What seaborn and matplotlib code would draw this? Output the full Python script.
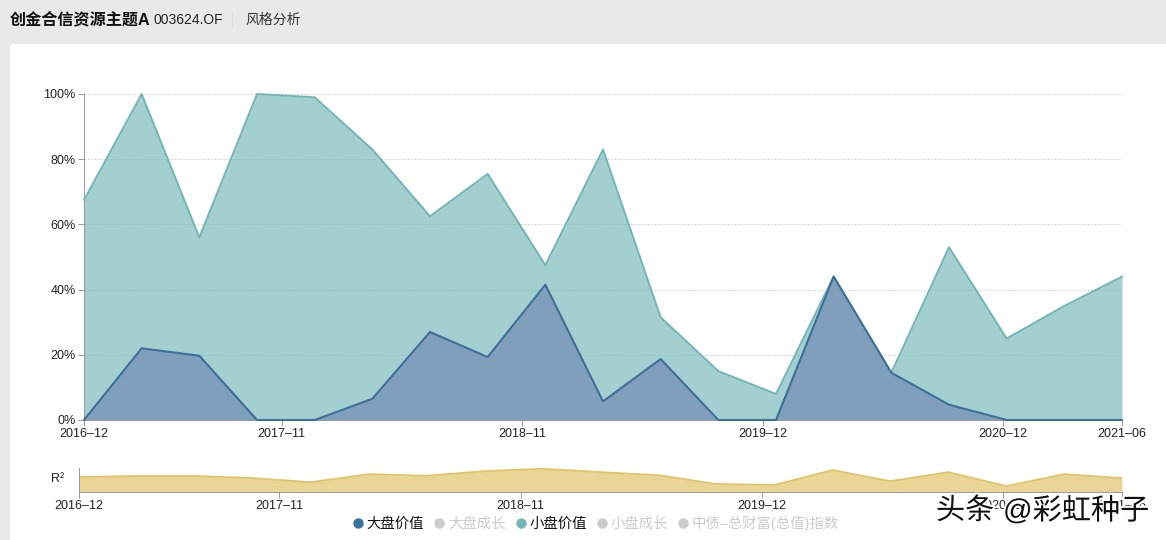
import matplotlib
matplotlib.use("Agg")
import matplotlib.pyplot as plt
import numpy as np
import pandas as pd
import seaborn as sns
from matplotlib.lines import Line2D
from matplotlib.patches import FancyBboxPatch
import matplotlib.patheffects as pe

# values, one point per report date
period = list(range(19))
large_value = [0, 22, 19.7, 0, 0, 6.5, 27, 19.3, 41.5, 5.7, 18.7, 0, 0, 44, 14.5, 4.7, 0, 0, 0]
small_value = [67.5, 100, 56, 100, 99, 83, 62.5, 75.5, 47.5, 83, 31.5, 15, 8, 44, 14.5, 53, 25, 35, 44]
r_squared = [0.58, 0.62, 0.62, 0.54, 0.38, 0.69, 0.63, 0.81, 0.90, 0.77, 0.65,
             0.31, 0.27, 0.85, 0.42, 0.77, 0.23, 0.69, 0.54]

y_ticks = [0, 20, 40, 60, 80, 100]
y_tick_labels = ["0%", "20%", "40%", "60%", "80%", "100%"]
date_labels = ["2016–12", "2017–11", "2018–11", "2019–12", "2020–12", "2021–06"]
date_ticks = [0, 3.43, 7.6, 11.77, 15.94, 18]
mini_date_ticks = [0, 3.45, 7.62, 11.78, 15.94, 18]
legend_names = ["大盘价值", "大盘成长", "小盘价值", "小盘成长", "中债–总财富(总值)指数"]

BLUE = "#3c6f99"
BLUE_FILL = "#7793b8"
TEAL = "#74b6b8"
GOLD = "#e0c468"
OFF = "#cccccc"
W, H = 1166, 540

sns.set_theme(style="white")
plt.rcParams["font.family"] = ["Liberation Sans", "Noto Sans CJK SC", "DejaVu Sans"]
plt.rcParams["axes.unicode_minus"] = False

df = pd.DataFrame({"period": period, "large": large_value, "small": small_value, "r2": r_squared})

fig = plt.figure(figsize=(W / 100, H / 100), dpi=100, facecolor="#e9e9e9")


def axes_px(left, top, right, bottom):
    return fig.add_axes([left / W, 1 - bottom / H, (right - left) / W, (bottom - top) / H])


# white card behind the charts
fig.add_artist(FancyBboxPatch((10 / W, -0.05), 1.1, 1 - 44 / H + 0.05, transform=fig.transFigure,
                              boxstyle="round,pad=0,rounding_size=0.005", fc="white", ec="none",
                              zorder=-1))

# header
fig.text(10 / W, 1 - 20 / H, "创金合信资源主题A", fontsize=11.6, fontweight="bold", color="#111111",
         va="center", family=["Liberation Sans", "Noto Sans CJK SC"])
fig.text(153 / W, 1 - 20 / H, "003624.OF", fontsize=10, color="#222222", va="center")
fig.text(245 / W, 1 - 20 / H, "风格分析", fontsize=10, color="#333333", va="center")
fig.add_artist(Line2D([232 / W, 232 / W], [1 - 13 / H, 1 - 27 / H], color="#dddddd", lw=0.8))

# main area chart
ax = axes_px(84, 94, 1122, 420)
ax.patch.set_alpha(0)
ax.fill_between(df["period"], df["small"], color=TEAL, alpha=0.65, lw=0)
ax.fill_between(df["period"], df["large"], color=BLUE_FILL, alpha=0.8, lw=0)
sns.lineplot(data=df, x="period", y="small", color=TEAL, lw=1.4, ax=ax, clip_on=False)
sns.lineplot(data=df, x="period", y="large", color=BLUE, lw=1.5, ax=ax, clip_on=False)
ax.set_xlim(0, 18)
ax.set_ylim(0, 100)
ax.set_xlabel("")
ax.set_ylabel("")
ax.set_yticks(y_ticks)
ax.set_yticklabels(y_tick_labels)
ax.set_xticks(date_ticks)
ax.set_xticklabels(date_labels)
ax.tick_params(axis="both", length=4, width=0.7, color="#999999", labelsize=9, labelcolor="#222222",
               bottom=True, left=True, pad=2)
ax.grid(axis="y", color="#c8c8c8", lw=0.6, ls=(0, (2, 2)))
ax.set_axisbelow(True)
sns.despine(ax=ax, top=True, right=True)
for side in ["left", "bottom"]:
    ax.spines[side].set_color("#999999")
    ax.spines[side].set_linewidth(0.7)
    ax.spines[side].set_zorder(1)  # the zero line of the blue series stays on top

# R2 strip
ax2 = axes_px(79, 468, 1122, 492)
ax2.patch.set_alpha(0)
ax2.fill_between(df["period"], df["r2"], color=GOLD, alpha=0.7, lw=0)
sns.lineplot(data=df, x="period", y="r2", color=GOLD, lw=1.3, ax=ax2)
ax2.set_xlim(0, 18)
ax2.set_ylim(0, 0.93)
ax2.set_xlabel("")
ax2.set_ylabel("")
ax2.set_yticks([])
ax2.set_xticks(mini_date_ticks)
ax2.set_xticklabels(date_labels)
ax2.tick_params(axis="x", length=4, width=0.7, color="#999999", labelsize=9, labelcolor="#222222",
                bottom=True, pad=2)
sns.despine(ax=ax2, top=True, right=True)
for side in ["left", "bottom"]:
    ax2.spines[side].set_color("#999999")
    ax2.spines[side].set_linewidth(0.7)
fig.text(64 / W, 1 - 479 / H, "R²", fontsize=9, color="#222222", ha="right", va="center")

# legend, only the two value styles are switched on
legend_colors = [BLUE, OFF, TEAL, OFF, OFF]
legend_text = ["#111111", OFF, "#111111", OFF, OFF]
handles = [Line2D([], [], ls="", marker="o", ms=6.5, color=c) for c in legend_colors]
leg = fig.legend(handles, legend_names, ncol=5, loc="center", bbox_to_anchor=(595 / W, 1 - 523 / H),
                 frameon=False, fontsize=10.4, handletextpad=0.1, columnspacing=0.55, handlelength=1.0)
for txt, c in zip(leg.get_texts(), legend_text):
    txt.set_color(c)

# watermark sits over the last two strip labels, as in the original
for px, part in [(936, "头条"), (1003, "@彩虹种子")]:
    fig.text(px / W, 1 - 511 / H, part, fontsize=21, color="#111111", va="center",
             path_effects=[pe.withStroke(linewidth=3, foreground="white")], zorder=10)

fig.savefig("out.png", dpi=100, facecolor=fig.get_facecolor())
